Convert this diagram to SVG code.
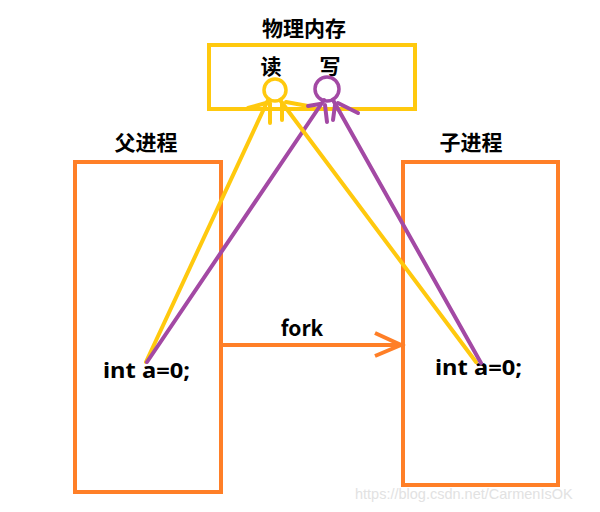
<svg xmlns="http://www.w3.org/2000/svg" width="600" height="512" viewBox="0 0 600 512">
<style>
.t{font-family:"Noto Sans CJK SC","Noto Sans",sans-serif;font-weight:bold;font-size:21px;fill:#000;text-anchor:middle}
.c{font-family:"Noto Sans","Liberation Sans",sans-serif;font-weight:bold;font-size:21px;fill:#000}
.box{fill:none;stroke:#FF7F27;stroke-width:4}
.y{fill:none;stroke:#FFC90E;stroke-width:4;stroke-linecap:round}
.p{fill:none;stroke:#A349A4;stroke-width:4;stroke-linecap:round}
.wm{font-family:"Liberation Sans",Arial,sans-serif;font-size:14.5px;fill:#e2e2e2}
</style>
<rect width="600" height="512" fill="#fff"/>
<g id="memory">
<rect x="209" y="45" width="206" height="64" fill="none" stroke="#FFC90E" stroke-width="4"/>
<text class="t" x="304" y="36">物理内存</text>
<text class="t" x="271" y="74">读</text>
<text class="t" x="330" y="74">写</text>
</g>
<g id="parent">
<rect class="box" x="75" y="162" width="146" height="330"/>
<text class="t" x="146" y="150">父进程</text>
<text class="c" x="103" y="378" textLength="87" lengthAdjust="spacingAndGlyphs">int a=0;</text>
</g>
<g id="child">
<rect class="box" x="403" y="162" width="155" height="323"/>
<text class="t" x="471" y="150">子进程</text>
<text class="c" x="435" y="375" textLength="87" lengthAdjust="spacingAndGlyphs">int a=0;</text>
</g>
<g id="connectors">
<path d="M221 345 H401 M375 333 L401 345 L375 356" fill="none" stroke="#FF7F27" stroke-width="4" stroke-linejoin="miter"/>
<text class="t" x="302" y="336" font-family="'Noto Sans','Liberation Sans',sans-serif">fork</text>
<line class="y" x1="146" y1="362" x2="268" y2="100"/>
<line class="p" x1="147" y1="362" x2="324" y2="100"/>
<line class="y" x1="476" y1="362" x2="280" y2="100"/>
<line class="p" x1="481" y1="363" x2="333" y2="100"/>
<g id="read-arrow">
<circle cx="275" cy="90" r="11" fill="none" stroke="#FFC90E" stroke-width="3.5"/>
<path class="y" d="M270 103 L270 123 M282 103 L282 120 M266 103 L248 108 M286 102 L308 106" stroke-width="3.5"/>
</g>
<g id="write-arrow">
<circle cx="327" cy="89" r="12" fill="none" stroke="#A349A4" stroke-width="3.5"/>
<path class="p" d="M325 105 L327 122 M335 105 L333 120 M320 104 L308 106 M338 103 L358 113" stroke-width="3.5"/>
</g>
</g>
<text class="wm" x="355" y="499">https://blog.csdn.net/CarmenIsOK</text>
</svg>
